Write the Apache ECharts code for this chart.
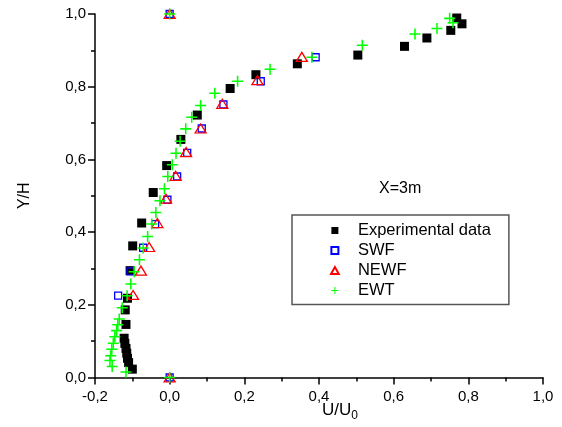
<!DOCTYPE html>
<html>
<head>
<meta charset="utf-8">
<script src="https://cdn.jsdelivr.net/npm/echarts@6/dist/echarts.min.js"></script>
<style>html,body{margin:0;padding:0;background:#fff}#c{width:562px;height:427px}</style>
</head>
<body>
<div id="c"></div>
<script>
// Experimental data
const expU = [0.769, 0.783, 0.753, 0.689, 0.629, 0.504, 0.342, 0.231, 0.162, 0.074, 0.030, -0.008, -0.044, -0.075, -0.099, -0.106, -0.113, -0.119, -0.117, -0.122, -0.120, -0.117, -0.115, -0.113, -0.110, -0.100];
const expY = [0.989, 0.973, 0.955, 0.934, 0.911, 0.887, 0.863, 0.833, 0.795, 0.722, 0.655, 0.583, 0.509, 0.425, 0.362, 0.294, 0.218, 0.186, 0.146, 0.108, 0.094, 0.080, 0.067, 0.053, 0.041, 0.023];
// SWF
const swfU = [0, 0.391, 0.244, 0.144, 0.086, 0.047, 0.020, -0.006, -0.039, -0.071, -0.105, -0.138, 0];
const swfY = [1.0, 0.881, 0.815, 0.751, 0.685, 0.618, 0.553, 0.489, 0.422, 0.357, 0.292, 0.225, 0];
// NEWF
const newfU = [0, 0.354, 0.235, 0.141, 0.083, 0.044, 0.016, -0.010, -0.033, -0.055, -0.077, -0.098, 0];
const newfY = [1.0, 0.882, 0.818, 0.753, 0.685, 0.620, 0.555, 0.492, 0.425, 0.359, 0.294, 0.227, 0];
// EWT
const ewtU = [0, 0.750, 0.759, 0.716, 0.657, 0.516, 0.381, 0.269, 0.182, 0.121, 0.083, 0.059, 0.043, 0.028, 0.017, 0.007, -0.005, -0.014, -0.026, -0.037, -0.048, -0.059, -0.071, -0.081, -0.095, -0.104, -0.114, -0.127, -0.135, -0.139, -0.142, -0.147, -0.151, -0.155, -0.158, -0.160, -0.154, -0.117, 0];
const ewtY = [1.0, 0.988, 0.976, 0.960, 0.945, 0.914, 0.881, 0.848, 0.815, 0.782, 0.748, 0.716, 0.684, 0.650, 0.617, 0.585, 0.553, 0.519, 0.486, 0.454, 0.422, 0.388, 0.356, 0.324, 0.291, 0.257, 0.225, 0.192, 0.161, 0.145, 0.129, 0.112, 0.094, 0.078, 0.060, 0.047, 0.030, 0.015, 0];

const seriesNames = ['Experimental data', 'SWF', 'NEWF', 'EWT'];
const xTickMin = -0.2, xTickMax = 1.0, xTickStep = 0.2;
const yTickMin = 0, yTickMax = 1.0, yTickStep = 0.2;
const annotation = 'X=3m';

const FONT = '"Liberation Sans", Arial, sans-serif';
const zip = (a, b) => a.map((v, i) => [v, b[i]]);
const fmt = v => v.toFixed(1).replace('.', ',');
const squarePath = 'path://M0,0h10v10H0z';
const trianglePath = 'path://M5,0L10,9H0z';
const plusPath = 'path://M0,4.3h10v1.4H0zM4.3,0h1.4v10H4.3z';

const axisCommon = {
  type: 'value',
  axisLine: { show: true, onZero: false, lineStyle: { color: '#000', width: 1.5 } },
  axisTick: { show: true, inside: false, length: 7, lineStyle: { color: '#000', width: 1.5 } },
  minorTick: { show: true, splitNumber: 2, length: 4, lineStyle: { color: '#000', width: 1.5 } },
  splitLine: { show: false },
  axisLabel: { color: '#000', fontSize: 15, fontFamily: FONT, formatter: fmt }
};

const chart = echarts.init(document.getElementById('c'), null, { renderer: 'canvas' });
chart.setOption({
  animation: false,
  backgroundColor: '#fff',
  grid: { left: 95, right: 19, top: 14, bottom: 49.5, containLabel: false, outerBoundsMode: 'none' },
  xAxis: Object.assign({}, axisCommon, {
    min: xTickMin, max: xTickMax, interval: xTickStep,
    axisLabel: Object.assign({}, axisCommon.axisLabel, { margin: 12 }),
    name: '{a|U/U}{b|0}', nameLocation: 'middle', nameGap: 24, nameMoveOverlap: false,
    nameTextStyle: {
      padding: [0, 0, 0, 42],
      rich: {
        a: { fontSize: 17, fontFamily: FONT, color: '#000', lineHeight: 20, verticalAlign: 'top' },
        b: { fontSize: 12, fontFamily: FONT, color: '#000', lineHeight: 20, verticalAlign: 'bottom', padding: [10, 0, 0, 0] }
      }
    }
  }),
  yAxis: Object.assign({}, axisCommon, {
    min: yTickMin, max: yTickMax, interval: yTickStep,
    axisLabel: Object.assign({}, axisCommon.axisLabel, { margin: 9 }),
    name: 'Y/H', nameLocation: 'middle', nameGap: 62, nameRotate: 90, nameMoveOverlap: false,
    nameTextStyle: { fontSize: 16, fontFamily: FONT, color: '#000' }
  }),
  legend: {
    orient: 'vertical',
    left: 292, top: 215,
    padding: [7, 18, 5.5, 38],
    itemWidth: 36, itemHeight: 7, itemGap: 3,
    symbolKeepAspect: true,
    borderColor: '#555', borderWidth: 1.5,
    selectedMode: false,
    textStyle: { fontSize: 16.5, fontFamily: FONT, color: '#000' },
    data: seriesNames
  },
  graphic: [{
    type: 'text', left: 379, top: 181,
    style: { text: annotation, fontSize: 16, fontFamily: FONT, fill: '#000' }
  }],
  series: [
    { name: seriesNames[0], type: 'scatter', clip: false, symbol: squarePath, symbolSize: 9, symbolKeepAspect: true,
      itemStyle: { color: '#000', opacity: 1 }, data: zip(expU, expY) },
    { name: seriesNames[1], type: 'scatter', clip: false, symbol: squarePath, symbolSize: 7, symbolKeepAspect: true,
      itemStyle: { color: 'rgba(255,255,255,0)', borderColor: '#0000ff', borderWidth: 1.3, opacity: 1 }, data: zip(swfU, swfY) },
    { name: seriesNames[2], type: 'scatter', clip: false, symbol: trianglePath, symbolSize: [11, 10], symbolKeepAspect: true,
      itemStyle: { color: 'rgba(255,255,255,0)', borderColor: '#ff0000', borderWidth: 1.3, opacity: 1 }, data: zip(newfU, newfY) },
    { name: seriesNames[3], type: 'scatter', clip: false, symbol: plusPath, symbolSize: 11, symbolKeepAspect: true,
      itemStyle: { color: '#00ff00', opacity: 1 }, data: zip(ewtU, ewtY) }
  ]
});
</script>
</body>
</html>
